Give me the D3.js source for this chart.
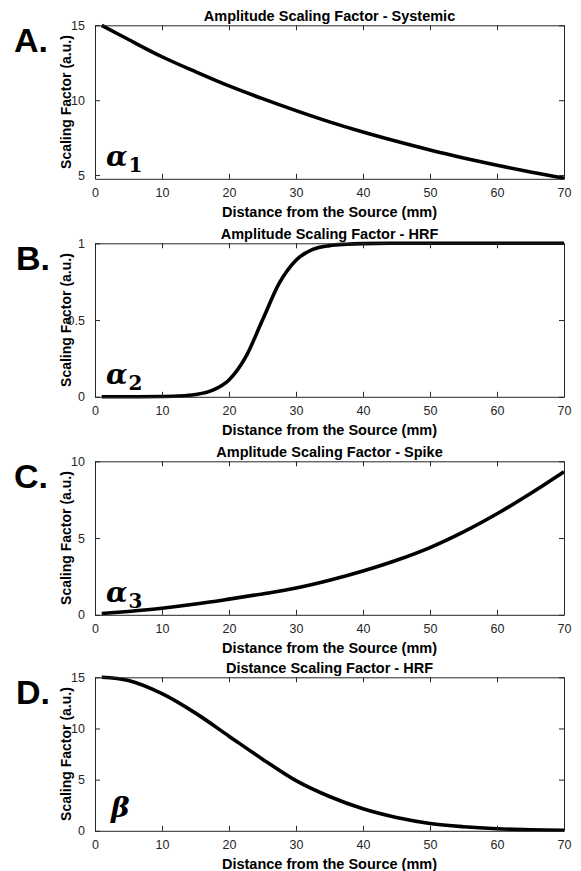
<!DOCTYPE html>
<html>
<meta charset="utf-8">
<style>
body { margin: 0; background: #fff; }
text { font-family: "Liberation Sans", Arial, sans-serif; }
.title, .xlabel, .ylabel { font-weight: bold; fill: #000; }
.letter { font-size: 34px; font-weight: bold; fill: #000; }
.greek { font-family: "DejaVu Serif", serif; font-weight: bold; font-style: italic; fill: #000; }
.sub { font-family: "DejaVu Serif", serif; font-weight: bold; font-style: normal; }
</style>
<body>
<svg id="fig" width="581" height="871"></svg>
</body>
<script src="https://cdn.jsdelivr.net/npm/d3@7"></script>
<script>
// distance from the source (mm)
var distance = [1, 5, 10, 15, 20, 25, 30, 35, 40, 45, 50, 55, 60, 65, 70];
var distanceHrf = [1, 5, 10, 12.5, 15, 17.5, 20, 22.5, 25, 27.5, 30, 32.5, 35, 37.5, 40, 45, 50, 55, 60, 65, 70];

var systemic = [15.0, 14.05, 12.9, 11.9, 10.95, 10.1, 9.3, 8.55, 7.87, 7.25, 6.67, 6.14, 5.65, 5.2, 4.79];
var hrf = [0, 0, 0.002, 0.005, 0.015, 0.042, 0.11, 0.26, 0.5, 0.74, 0.89, 0.96, 0.985, 0.994, 0.998, 1, 1, 1, 1, 1, 1];
var spike = [0.08, 0.22, 0.43, 0.7, 1.02, 1.36, 1.74, 2.25, 2.85, 3.55, 4.38, 5.4, 6.58, 7.9, 9.32];
var distHrf = [15.0, 14.68, 13.4, 11.5, 9.25, 7.0, 4.9, 3.35, 2.15, 1.3, 0.72, 0.4, 0.2, 0.1, 0.05];

var titles = ["Amplitude Scaling Factor - Systemic", "Amplitude Scaling Factor - HRF",
              "Amplitude Scaling Factor - Spike", "Distance Scaling Factor - HRF"];
var letters = ["A.", "B.", "C.", "D."];
var greek = ["\u03B1", "\u03B1", "\u03B1", "\u03B2"];
var subs = ["1", "2", "3", ""];
var yDomains = [[4.75, 15], [0, 1], [0, 10], [0, 15]];
var yTicks = [[5, 10, 15], [0, 0.5, 1], [0, 5, 10], [0, 5, 10, 15]];
var xTicks = [0, 10, 20, 30, 40, 50, 60, 70];

var panels = [
  {x: distance, y: systemic, curve: d3.curveCatmullRom},
  {x: distanceHrf, y: hrf, curve: d3.curveMonotoneX},
  {x: distance, y: spike, curve: d3.curveCatmullRom},
  {x: distance, y: distHrf, curve: d3.curveCatmullRom}
];

var svg = d3.select("#fig");
var left = 95, right = 564, h = 153.5;
var tops = [25.3, 243.3, 461.3, 677.3];
var letterX = [14, 16, 14, 16];
var fmt = d3.format("~g");

var x = d3.scaleLinear().domain([0, 70]).range([left, right]);

panels.forEach(function(p, i) {
  var top = tops[i], bottom = top + h;
  var y = d3.scaleLinear().domain(yDomains[i]).range([bottom, top]);
  var g = svg.append("g");

  // curve
  var line = d3.line()
    .x(function(d) { return x(d[0]); })
    .y(function(d) { return y(d[1]); })
    .curve(p.curve);
  g.append("path")
    .datum(d3.zip(p.x, p.y))
    .attr("d", line)
    .attr("fill", "none")
    .attr("stroke", "#000")
    .attr("stroke-width", 3.6)
    .attr("stroke-linejoin", "round");

  // axes, ticks inward, box
  var ax = [
    d3.axisBottom(x).tickValues(xTicks).tickSizeInner(-5).tickSizeOuter(0).tickPadding(9).tickFormat(fmt),
    d3.axisTop(x).tickValues(xTicks).tickSizeInner(-5).tickSizeOuter(0).tickFormat(""),
    d3.axisLeft(y).tickValues(yTicks[i]).tickSizeInner(-5).tickSizeOuter(0).tickPadding(10).tickFormat(fmt),
    d3.axisRight(y).tickValues(yTicks[i]).tickSizeInner(-5).tickSizeOuter(0).tickFormat("")
  ];
  var pos = ["translate(0," + bottom + ")", "translate(0," + top + ")",
             "translate(" + left + ",0)", "translate(" + right + ",0)"];
  ax.forEach(function(a, k) {
    var ag = g.append("g").attr("transform", pos[k]).call(a);
    ag.select(".domain").attr("stroke", "#262626");
    ag.selectAll(".tick line").attr("stroke", "#262626");
    ag.selectAll(".tick text")
      .attr("fill", "#262626")
      .style("font-family", "'Liberation Sans', Arial, sans-serif")
      .style("font-size", "12.5px");
  });

  g.append("text").attr("class", "title")
    .attr("x", (left + right) / 2).attr("y", top - 4.5)
    .attr("text-anchor", "middle").style("font-size", "14.5px")
    .text(titles[i]);

  g.append("text").attr("class", "xlabel")
    .attr("x", (left + right) / 2).attr("y", bottom + 38.5)
    .attr("text-anchor", "middle").style("font-size", "14.5px")
    .text("Distance from the Source (mm)");

  g.append("text").attr("class", "ylabel")
    .attr("transform", "translate(70.5," + (top + h / 2) + ") rotate(-90)")
    .attr("text-anchor", "middle").style("font-size", "14px")
    .text("Scaling Factor (a.u.)");

  g.append("text").attr("class", "letter")
    .attr("x", letterX[i]).attr("y", top + 27)
    .text(letters[i]);

  var gt = g.append("text").attr("class", "greek")
    .attr("x", i === 3 ? 111 : 106).attr("y", i === 3 ? bottom - 14 : bottom - 13)
    .style("font-size", "28px");
  gt.append("tspan").text(greek[i]);
  if (subs[i]) {
    gt.append("tspan").attr("class", "sub").attr("dy", 6).attr("dx", 1)
      .style("font-size", "20px").text(subs[i]);
  }
});
</script>
</html>
